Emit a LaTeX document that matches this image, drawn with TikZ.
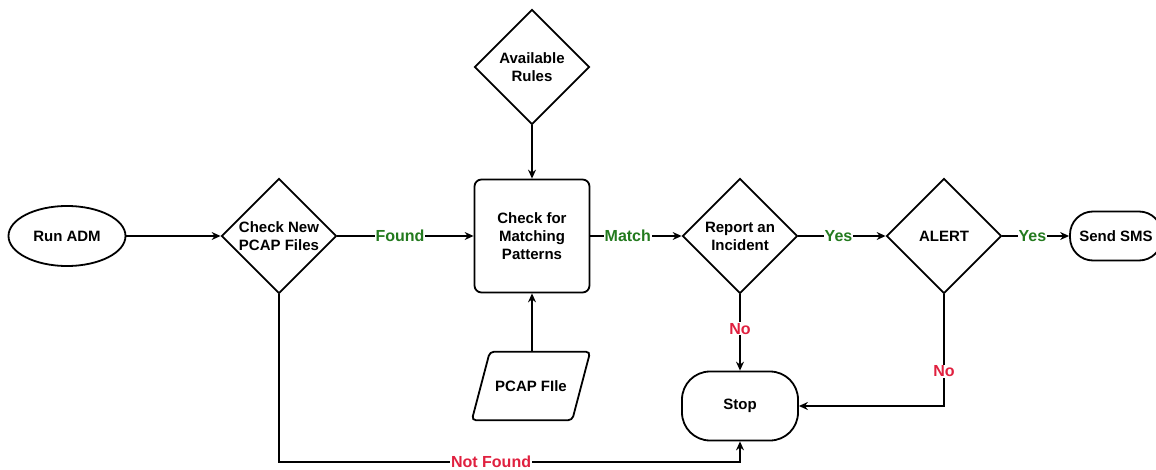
\documentclass[tikz,border=0pt]{standalone}
\usepackage{fontspec}
\setmainfont{Liberation Sans}
\usetikzlibrary{shapes.geometric,arrows.meta}
\definecolor{yesgreen}{HTML}{237A1E}
\definecolor{nored}{HTML}{E0203F}
\begin{document}
\begin{tikzpicture}[x=1pt,y=-1pt,
  every node/.style={font=\fontsize{15}{18}\selectfont\bfseries, align=center},
  shapebox/.style={draw=black, line width=1.8pt, fill=white},
  decision/.style={shapebox, diamond, aspect=1, inner sep=0pt, minimum width=115pt, minimum height=115pt},
  process/.style={shapebox, rectangle, rounded corners=7pt, minimum width=115pt, minimum height=113pt},
  terminal/.style={shapebox, ellipse, minimum width=117pt, minimum height=60pt},
  flow/.style={draw=black, line width=1.2pt, -{Stealth[length=9pt,width=8pt,inset=3pt]}},
  edgelabel/.style={fill=white, inner sep=1pt, font=\fontsize{16}{18}\selectfont\bfseries},
  yeslabel/.style={edgelabel, text=yesgreen},
  nolabel/.style={edgelabel, text=nored}
]
\useasboundingbox (0,0) rectangle (1156,470);

% nodes
\node[terminal] (run) at (67,236) {Run ADM};
\node[decision] (chknew) at (279,236) {Check New\\PCAP Files};
\node[process] (match) at (532,236) {Check for\\Matching\\Patterns};
\node[decision] (rules) at (532,67) {Available\\Rules};
\node[decision] (report) at (740,236) {Report an\\Incident};
\node[decision] (alert) at (944,236) {ALERT};
\node[shapebox, rectangle, rounded corners=23pt, minimum width=92pt, minimum height=49pt] (sms) at (1116,236) {Send SMS};
\node[shapebox, rectangle, rounded corners=28pt, minimum width=116pt, minimum height=69pt] (stop) at (740,406) {Stop};

% input/output parallelogram
\node[rectangle, minimum width=100pt, minimum height=68pt, inner sep=0pt] (pcap) at (531,386) {};
\draw[shapebox, rounded corners=4pt]
  ([xshift=9pt]pcap.north west) -- ([xshift=9pt]pcap.north east)
  -- ([xshift=-9pt]pcap.south east) -- ([xshift=-9pt]pcap.south west) -- cycle;
\node at (pcap.center) {PCAP FIle};

\coordinate (nfrow) at (0,462);

% connectors
\draw[flow] (run.east) -- (run.east -| chknew.west);
\draw[flow] (chknew.east) -- node[yeslabel, pos=0.46] {Found} (match.west);
\draw[flow] (rules.south) -- (match.north);
\draw[flow] (match.south |- pcap.north) -- (match.south);
\draw[flow] (match.east) -- node[yeslabel, pos=0.41] {Match} (report.west);
\draw[flow] (report.east) -- node[yeslabel, pos=0.46] {Yes} (alert.west);
\draw[flow] (alert.east) -- node[yeslabel, pos=0.45] {Yes} (sms.west);
\draw[flow] (report.south) -- node[nolabel, pos=0.45] {No} (stop.north);
\draw[flow] (alert.south) |- node[nolabel, pos=0.345] {No} (stop.east);
\draw[flow] (chknew.south) -- (chknew.south |- nfrow)
  -- node[nolabel, pos=0.46] {Not Found} (stop.south |- nfrow) -- (stop.south);
\end{tikzpicture}
\end{document}
